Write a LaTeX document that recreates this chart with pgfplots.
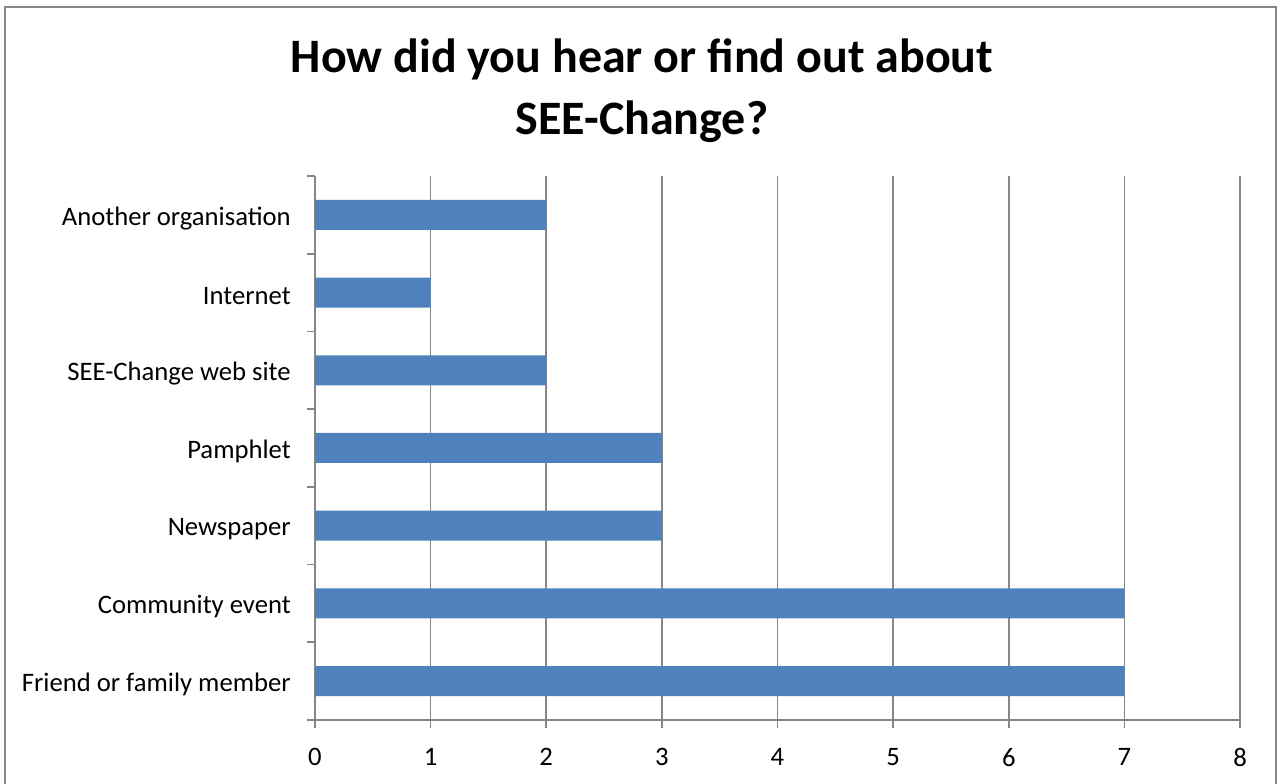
\documentclass[border=0pt]{standalone}
\usepackage{fontspec}
\setmainfont{Carlito}
\usepackage{pgfplots}
\pgfplotsset{compat=1.18}
\definecolor{barblue}{HTML}{4F81BD}
\definecolor{axisgray}{HTML}{868686}
\begin{document}
\begin{tikzpicture}
\useasboundingbox (0,0) rectangle (963pt,588pt);
% outer chart frame (bottom edge lies below the visible area)
\draw[axisgray, line width=1.2pt] (3.75pt,-10pt) -- (3.75pt,582.75pt) -- (957pt,582.75pt) -- (957pt,-10pt);
\node[align=center, font=\fontsize{36}{47}\selectfont\bfseries] at (481.5pt,520pt)
  {How did you hear or find out about\\SEE-Change?};
\begin{axis}[
    at={(236.25pt,48pt)}, anchor=south west,
    width=693.75pt, height=408pt, scale only axis,
    xbar, bar width=22.5pt,
    xmin=0, xmax=8, ymin=-0.5, ymax=6.5,
    xtick={0,...,8},
    ytick={0,...,6},
    yticklabels={Friend or family member, Community event, Newspaper, Pamphlet,
                 SEE-Change web site, Internet, Another organisation},
    minor ytick={-0.5,0.5,...,6.5},
    major tick length=6pt,
    minor tick length=6pt,
    major y tick style={draw=none},
    minor y tick style={draw=axisgray, line width=1.3pt},
    major x tick style={draw=axisgray, line width=1.3pt},
    tick align=outside,
    xtick pos=bottom, ytick pos=left,
    axis x line*=bottom, axis y line*=left,
    axis line style={axisgray, line width=1.3pt, -},
    xmajorgrids,
    major grid style={axisgray, line width=1.3pt},
    /pgf/number format/assume math mode=true,
    xticklabel style={font=\fontsize{20}{24}\selectfont, inner sep=0pt, yshift=-15pt},
    yticklabel style={font=\fontsize{20}{24}\selectfont, inner sep=0pt, xshift=-12pt, yshift=-2.5pt},
]
\addplot[fill=barblue, draw=none] coordinates {
    (7,0) (7,1) (3,2) (3,3) (2,4) (1,5) (2,6)
};
\end{axis}
\end{tikzpicture}
\end{document}
